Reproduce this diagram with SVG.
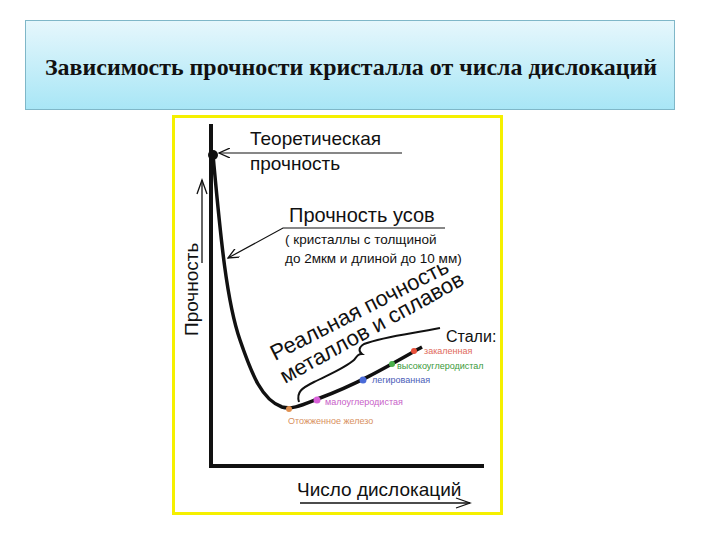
<svg xmlns="http://www.w3.org/2000/svg" width="720" height="540" viewBox="0 0 720 540">
<defs>
<linearGradient id="tg" x1="0" y1="0" x2="0" y2="1"><stop offset="0" stop-color="#e6f7fc"/><stop offset="1" stop-color="#a8e6f6"/></linearGradient>
<marker id="ah" viewBox="0 0 12 10" refX="11" refY="5" markerWidth="12" markerHeight="10" orient="auto" markerUnits="userSpaceOnUse"><path d="M0,0 L11,5 L0,10" fill="none" stroke="#111" stroke-width="1.3"/></marker>
</defs>
<style>
.s{font-family:"Liberation Sans",Arial,sans-serif;fill:#111}
.sm{font-family:"Liberation Sans",Arial,sans-serif;font-size:9px}
.ln{fill:none;stroke:#111}
</style>
<rect width="720" height="540" fill="#fff"/>
<g id="title">
<rect x="25.5" y="20.5" width="649" height="89" fill="url(#tg)" stroke="#7fb7c8"/>
<text x="45" y="75" textLength="612" lengthAdjust="spacingAndGlyphs" font-family="Liberation Serif,serif" font-weight="bold" font-size="23" fill="#111">Зависимость прочности кристалла от числа дислокаций</text>
</g>
<g id="frame"><rect x="173.5" y="116.5" width="328" height="397" fill="#fff" stroke="#f5f000" stroke-width="3"/></g>
<g id="axes">
<path class="ln" d="M211,124 V466 H484" stroke-width="4"/>
<path class="ln" d="M202,263 V180" stroke-width="1.3"/>
<path class="ln" d="M197,194 L202,180 L207,194" stroke-width="1.3"/>
<path class="ln" d="M300,503 H470" stroke-width="1.3"/>
<path class="ln" d="M456,498 L470,503 L456,508" stroke-width="1.3"/>
<text class="s" font-size="19" transform="translate(198,336) rotate(-90)">Прочность</text>
<text class="s" font-size="19" x="297" y="496">Число дислокаций</text>
</g>
<g id="curve">
<path class="ln" stroke-width="3.5" d="M213,155 C220,230 226,300 240,340 C252,375 262,400 282,407 C292,410 302,405 320,398 C360,383 390,365 422,347"/>
<circle cx="213" cy="155" r="5" fill="#111"/>
</g>
<g id="connectors">
<path class="ln" stroke-width="1.2" d="M402,153 H219" marker-end="url(#ah)"/>
<path class="ln" stroke-width="1.2" d="M445,228 H283 L228,258" marker-end="url(#ah)"/>
<path class="ln" stroke-width="2" d="M299,402 C296,392 302,388 314,382 C330,374 345,368 354,360 C357,356 358,354 362,354 C358,351 359,347 364,344 C385,336 410,334 440,328"/>
</g>
<g id="labels">
<text class="s" font-size="19" x="250" y="145">Теоретическая</text>
<text class="s" font-size="19" x="250" y="170">прочность</text>
<text class="s" font-size="20" x="289" y="222">Прочность усов</text>
<text class="s" font-size="13.5" x="285" y="244">( кристаллы с толщиной</text>
<text class="s" font-size="13.5" x="285" y="263">до  2мкм и длиной до 10 мм)</text>
<text class="s" font-size="22" transform="translate(275,361) rotate(-27)">Реальная почность</text>
<text class="s" font-size="22" transform="translate(285,384) rotate(-29)">металлов и сплавов</text>
<text class="s" font-size="16" x="446" y="342">Стали:</text>
</g>
<g id="points">
<circle cx="414" cy="351" r="3" fill="#e8503a"/><text class="sm" x="424" y="354" fill="#e06a5a">закаленная</text>
<circle cx="392" cy="364" r="3" fill="#4ab04a"/><text class="sm" x="397" y="369" fill="#3a9a3a">высокоуглеродистал</text>
<circle cx="363" cy="380" r="3.5" fill="#4a6ad8"/><text class="sm" x="372" y="383" fill="#4a5cb8">легированная</text>
<circle cx="317" cy="400" r="3.5" fill="#d860d8"/><text class="sm" x="325" y="405" fill="#c860c8">малоуглеродистая</text>
<circle cx="289" cy="409" r="3" fill="#e09050"/><text class="sm" x="288" y="424" fill="#d89060">Отожженное железо</text>
</g>
</svg>
